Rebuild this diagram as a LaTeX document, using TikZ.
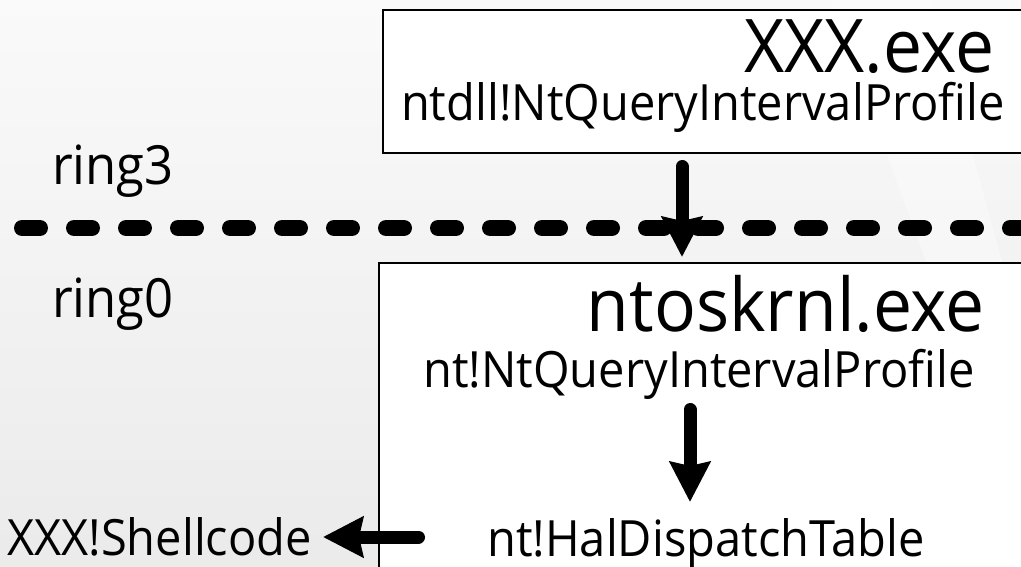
\documentclass[tikz,border=0pt]{standalone}
\usepackage{fontspec}
\setmainfont{Open Sans}[FakeStretch=0.94]
\usetikzlibrary{arrows.meta}
\begin{document}
\begin{tikzpicture}[x=1pt,y=-1pt,
  box/.style={draw=black, line width=2pt, fill=white, inner sep=0pt},
  txt/.style={inner sep=0pt, font=\fontsize{50}{53}\selectfont},
  big/.style={inner sep=0pt, text depth=0pt, font=\fontsize{74}{78}\selectfont},
  ringlbl/.style={inner sep=0pt, font=\fontsize{54}{57}\selectfont},
  arr/.style={line width=13pt, line cap=round, -{Stealth[length=40pt,width=40pt,inset=4pt]}},
  sepline/.style={line width=16pt, line cap=round, dash pattern=on 18pt off 34pt}]
\useasboundingbox (0,0) rectangle (1021,567);
\clip (0,0) rectangle (1021,567);
\shade[top color=black!2, bottom color=black!8] (0,0) rectangle (1021,567);
\fill[white, opacity=0.35] (830,0) -- (930,0) -- (1021,330) -- (1021,520) -- cycle;
% boxes
\node[box, anchor=north west, minimum width=700pt, minimum height=143pt] (ubox) at (382,9) {};
\node[box, anchor=north west, minimum width=700pt, minimum height=400pt] (kbox) at (378,262) {};
% separator
\coordinate (s1) at (22,228);
\coordinate (s2) at (1060,228);
\draw[sepline] (s1) -- (s2);
% texts
\node[big, anchor=base east] (uexe) at (995,73) {XXX.exe};
\node[txt, anchor=base] (ntdll) at (703,121) {ntdll!NtQueryIntervalProfile};
\node[ringlbl, anchor=base west] (r3) at (52,185) {ring3};
\node[ringlbl, anchor=base west] (r0) at (52,317) {ring0};
\node[big, anchor=base east] (kexe) at (985,331) {ntoskrnl.exe};
\node[txt, anchor=base] (ntq) at (699,387) {nt!NtQueryIntervalProfile};
\node[txt, anchor=base] (hal) at (706,556) {nt!HalDispatchTable};
\node[txt, anchor=base west] (shell) at (7,555) {XXX!Shellcode};
% arrows
\coordinate (a1) at (682,166.5);
\draw[arr, shorten >=5pt] (a1) -- (a1 |- kbox.north);
\coordinate (a2s) at (690,409.5);
\coordinate (a2e) at (690,502);
\draw[arr] (a2s) -- (a2e);
\coordinate (a3s) at (418.5,537);
\coordinate (a3e) at (323,537);
\draw[arr] (a3s) -- (a3e);
\end{tikzpicture}
\end{document}
